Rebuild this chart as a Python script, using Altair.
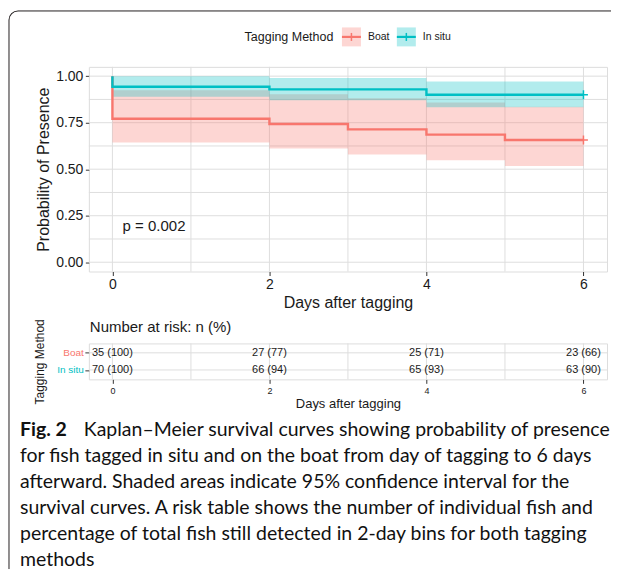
import math
import altair as alt
import pandas as pd

FONT = "Liberation Sans"
CAP_FONT = "Lato"
TXT = "#1a1a1a"
TICK = "#333333"
GRID = "#dedede"
BORDER = "#b3b3b3"
FRAME = "#231f20"

# ---------------- data ----------------
methods = ["Boat", "In situ"]
colors = ["#F8766D", "#00BFC4"]

boat_time = [0, 0, 2, 3, 4, 5, 6]
boat_surv = [1.0, 0.771, 0.743, 0.714, 0.686, 0.657, 0.657]
boat_lower = [1.0, 0.644, 0.611, 0.579, 0.548, 0.517, 0.517]
boat_upper = [1.0, 0.924, 0.903, 0.881, 0.858, 0.835, 0.835]

insitu_time = [0, 0, 2, 4, 6]
insitu_surv = [1.0, 0.943, 0.929, 0.900, 0.900]
insitu_lower = [1.0, 0.890, 0.870, 0.833, 0.833]
insitu_upper = [1.0, 1.0, 0.990, 0.972, 0.972]

censor_method = ["Boat", "In situ"]
censor_time = [6, 6]
censor_surv = [0.657, 0.900]

risk_days = [0, 2, 4, 6]
boat_n = [35, 27, 25, 23]
boat_pct = [100, 77, 71, 66]
insitu_n = [70, 66, 65, 63]
insitu_pct = [100, 94, 93, 90]

p_value = "p = 0.002"
y_ticks = [0, 0.25, 0.5, 0.75, 1.0]
x_ticks = [0, 2, 4, 6]
main_grid_y = [0, 0.125, 0.25, 0.375, 0.5, 0.625, 0.75, 0.875, 1.0]
main_grid_x = [0, 1, 2, 3, 4, 5, 6]

legend_title = "Tagging Method"
y_title = "Probability of Presence"
x_title = "Days after tagging"
risk_title = "Number at risk: n (%)"
risk_y_title = "Tagging Method"

caption_bold = "Fig. 2"
caption_first = "Kaplan\u2013Meier survival curves showing probability of presence"
caption_rest = [
    "for fish tagged in situ and on the boat from day of tagging to 6 days",
    "afterward. Shaded areas indicate 95% confidence interval for the",
    "survival curves. A risk table shows the number of individual fish and",
    "percentage of total fish still detected in 2-day bins for both tagging",
    "methods",
]

# ---------------- tables ----------------
surv_df = pd.concat([
    pd.DataFrame({"method": "Boat", "time": boat_time, "surv": boat_surv,
                  "lower": boat_lower, "upper": boat_upper}),
    pd.DataFrame({"method": "In situ", "time": insitu_time, "surv": insitu_surv,
                  "lower": insitu_lower, "upper": insitu_upper}),
], ignore_index=True)
surv_df["idx"] = range(len(surv_df))

censor_df = pd.DataFrame({"method": censor_method, "time": censor_time, "surv": censor_surv})

risk_df = pd.concat([
    pd.DataFrame({"method": "Boat", "day": risk_days,
                  "label": [f"{n} ({p})" for n, p in zip(boat_n, boat_pct)]}),
    pd.DataFrame({"method": "In situ", "day": risk_days,
                  "label": [f"{n} ({p})" for n, p in zip(insitu_n, insitu_pct)]}),
], ignore_index=True)

# ---------------- layout constants ----------------
W, H = 519, 205
RH = 36
xsc = alt.Scale(domain=[-0.3, 6.3], nice=False, zero=False)
ysc = alt.Scale(domain=[-0.05, 1.05], nice=False, zero=False)
csc = alt.Scale(domain=methods, range=colors)
rysc = alt.Scale(type="point", domain=methods, padding=0.55)

one = alt.Data(values=[{}])


def deco_rule(color, width, **enc):
    return alt.Chart(one).mark_rule(color=color, strokeWidth=width).encode(**enc)


x_axis = alt.Axis(values=x_ticks, format="d", title=x_title, grid=False, domain=False,
                  tickColor=TICK, tickSize=4, labelFontSize=14, labelColor=TXT,
                  labelPadding=2, titleFontSize=16, titleFontWeight="normal",
                  titleColor=TXT, titlePadding=3, labelFont=FONT, titleFont=FONT)
y_axis = alt.Axis(values=y_ticks, format=".2f", title=y_title, grid=False, domain=False,
                  tickColor=TICK, tickSize=3.5, labelFontSize=14, labelColor=TXT,
                  labelPadding=2.5, titleFontSize=16, titleFontWeight="normal",
                  titleColor=TXT, titlePadding=4, labelFont=FONT, titleFont=FONT)

X = lambda f: alt.X(f, scale=xsc, axis=x_axis)
Y = lambda f: alt.Y(f, scale=ysc, axis=y_axis)

gy = alt.Chart(pd.DataFrame({"v": main_grid_y})).mark_rule(color=GRID, strokeWidth=1).encode(
    y=Y("v:Q"))
gx = alt.Chart(pd.DataFrame({"v": main_grid_x})).mark_rule(color=GRID, strokeWidth=1).encode(
    x=X("v:Q"))

bands = alt.Chart(surv_df).mark_area(interpolate="step-after", opacity=0.3).encode(
    x=X("time:Q"),
    y=Y("lower:Q"),
    y2="upper:Q",
    color=alt.Color("method:N", scale=csc, legend=None),
)
lines = alt.Chart(surv_df).mark_line(interpolate="step-after", strokeWidth=2.4).encode(
    x=X("time:Q"),
    y=Y("surv:Q"),
    color=alt.Color("method:N", scale=csc, legend=None),
    order="idx:Q",
)
censor = alt.Chart(censor_df).mark_point(shape="M-1,0H1M0,-1V1", filled=False, size=80,
                                         strokeWidth=1.5, opacity=1).encode(
    x=X("time:Q"),
    y=Y("surv:Q"),
    color=alt.Color("method:N", scale=csc, legend=None),
)
ptext = alt.Chart(pd.DataFrame({"label": [p_value]})).mark_text(
    align="left", baseline="middle", fontSize=15, font=FONT, color=TXT).encode(
    x=alt.XDatum(0.13, scale=xsc, axis=x_axis),
    y=alt.YDatum(0.195, scale=ysc, axis=y_axis),
    text="label:N")

# manual legend (positions relative to main plot area)
LEG_Y = -30
leg_layers = [
    alt.Chart(one).mark_text(align="left", baseline="middle", fontSize=12.5, font=FONT,
                             color=TXT, text=legend_title).encode(
        x=alt.value(156), y=alt.value(LEG_Y))
]
key_cx = [263, 318]
for m, col, cx in zip(methods, colors, key_cx):
    leg_layers += [
        alt.Chart(one).mark_rect(color=col, opacity=0.3).encode(
            x=alt.value(cx - 9.5), x2=alt.value(cx + 9.5),
            y=alt.value(LEG_Y - 9.5), y2=alt.value(LEG_Y + 9.5)),
        deco_rule(col, 2.2, x=alt.value(cx - 9.5), x2=alt.value(cx + 9.5), y=alt.value(LEG_Y)),
        deco_rule(col, 1.5, x=alt.value(cx), y=alt.value(LEG_Y - 4), y2=alt.value(LEG_Y + 4)),
        alt.Chart(pd.DataFrame({"method": [m]})).mark_text(
            align="left", baseline="middle", fontSize=10.5, font=FONT, color=TXT).encode(
            x=alt.value(cx + 16.5), y=alt.value(LEG_Y), text="method:N"),
    ]

# outer frame (rounded top-left corner); kept inside the page box
FX, FY, R = -80, -56, 9
frame_layers = [
    deco_rule(FRAME, 1, x=alt.value(FX + R), x2=alt.value(523), y=alt.value(FY)),
    deco_rule(FRAME, 1, x=alt.value(FX), y=alt.value(FY + R), y2=alt.value(503)),
    alt.Chart(one).mark_arc(theta=1.5 * math.pi, theta2=2 * math.pi, radius=R + 0.5,
                            radius2=R - 0.5, color=FRAME).encode(
        x=alt.value(FX + R), y=alt.value(FY + R)),
]

main = alt.layer(gy, gx, bands, lines, censor, ptext, *leg_layers, *frame_layers).properties(
    width=W, height=H)

# ---------------- risk table ----------------
rx_axis = alt.Axis(values=x_ticks, format="d", title=x_title, grid=False, domain=False,
                   tickColor=TICK, tickSize=4, labelFontSize=9, labelColor=TXT,
                   labelPadding=3, titleFontSize=13, titleFontWeight="normal",
                   titleColor=TXT, titlePadding=2, labelFont=FONT, titleFont=FONT)
ry_axis = alt.Axis(title=risk_y_title, grid=False, domain=False, tickColor=TICK, tickSize=4,
                   labelFontSize=10, labelPadding=1.5, labelFont=FONT, titleFont=FONT,
                   labelColor={"condition": {"test": "datum.value === 'Boat'", "value": colors[0]},
                               "value": colors[1]},
                   titleFontSize=12, titleFontWeight="normal", titleColor=TXT, titlePadding=10)

RX = lambda f: alt.X(f, scale=xsc, axis=rx_axis)
RY = lambda f: alt.Y(f, scale=rysc, axis=ry_axis)

rgx = alt.Chart(pd.DataFrame({"v": main_grid_x})).mark_rule(color=GRID, strokeWidth=1).encode(
    x=RX("v:Q"))
rgy = alt.Chart(pd.DataFrame({"method": methods})).mark_rule(color=GRID, strokeWidth=1).encode(
    y=RY("method:N"))
cells = alt.Chart(risk_df).mark_text(fontSize=11, font=FONT, color=TXT, baseline="middle").encode(
    x=RX("day:Q"),
    y=RY("method:N"),
    text="label:N",
)
rtitle = alt.Chart(one).mark_text(align="left", baseline="middle", fontSize=15, font=FONT,
                                  color=TXT, text=risk_title).encode(
    x=alt.value(1), y=alt.value(-16))

# caption (relative to risk plot area)
CX, CY, LH, CFS = -69, 87, 26, 19.5
cap_layers = [
    alt.Chart(pd.DataFrame({"t": [caption_bold]})).mark_text(
        align="left", baseline="middle", fontSize=CFS, font=CAP_FONT, fontWeight="bold",
        color="#111").encode(x=alt.value(CX), y=alt.value(CY), text="t:N"),
    alt.Chart(pd.DataFrame({"t": [caption_first]})).mark_text(
        align="left", baseline="middle", fontSize=CFS, font=CAP_FONT, color="#111").encode(
        x=alt.value(CX + 64), y=alt.value(CY), text="t:N"),
]
for i, line in enumerate(caption_rest):
    cap_layers.append(
        alt.Chart(pd.DataFrame({"t": [line]})).mark_text(
            align="left", baseline="middle", fontSize=CFS, font=CAP_FONT, color="#111").encode(
            x=alt.value(CX), y=alt.value(CY + LH * (i + 1)), text="t:N"))

risk = alt.layer(rgx, rgy, cells, rtitle, *cap_layers).properties(width=W, height=RH)

chart = alt.vconcat(main, risk, spacing=72, bounds="flush").properties(
    padding={"left": 0, "top": 1.5, "right": 0, "bottom": 0}
).configure_view(stroke=BORDER, strokeWidth=1).configure(font=FONT)

chart.save("out.html", embed_options={"renderer": "svg", "actions": False})
